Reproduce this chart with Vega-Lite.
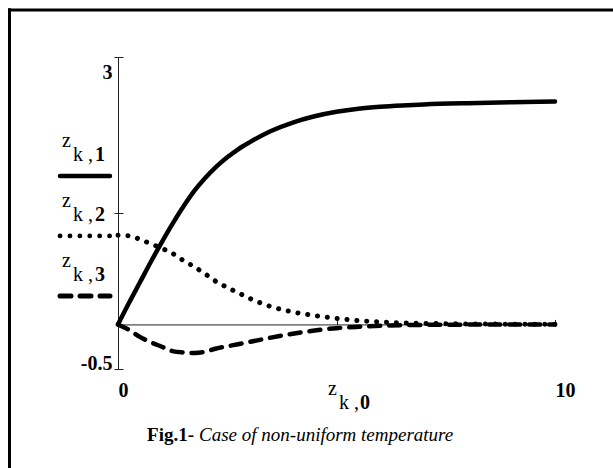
{
  "$schema": "https://vega.github.io/schema/vega-lite/v6.json",
  "width": 437,
  "height": 312,
  "autosize": {"type": "none"},
  "padding": {"left": 118, "top": 57, "right": 58, "bottom": 99},
  "background": "white",
  "config": {"view": {"stroke": null}, "axis": {"grid": false}},
  "datasets": {
    "curves": [
      {"s": "1", "x": 0, "y": 0}, {"s": "1", "x": 0.25, "y": 0.24}, {"s": "1", "x": 0.5, "y": 0.47}, {"s": "1", "x": 0.75, "y": 0.7},
      {"s": "1", "x": 1, "y": 0.92}, {"s": "1", "x": 1.25, "y": 1.13}, {"s": "1", "x": 1.5, "y": 1.325}, {"s": "1", "x": 1.75, "y": 1.5},
      {"s": "1", "x": 2, "y": 1.645}, {"s": "1", "x": 2.25, "y": 1.77}, {"s": "1", "x": 2.5, "y": 1.875}, {"s": "1", "x": 2.75, "y": 1.965},
      {"s": "1", "x": 3, "y": 2.04}, {"s": "1", "x": 3.5, "y": 2.17}, {"s": "1", "x": 4, "y": 2.265}, {"s": "1", "x": 4.5, "y": 2.335},
      {"s": "1", "x": 5, "y": 2.385}, {"s": "1", "x": 5.5, "y": 2.42}, {"s": "1", "x": 6, "y": 2.442}, {"s": "1", "x": 6.5, "y": 2.457},
      {"s": "1", "x": 7, "y": 2.468}, {"s": "1", "x": 8, "y": 2.482}, {"s": "1", "x": 9, "y": 2.492}, {"s": "1", "x": 10, "y": 2.5},
      {"s": "2", "x": 0, "y": 1.0}, {"s": "2", "x": 0.25, "y": 0.995}, {"s": "2", "x": 0.5, "y": 0.955}, {"s": "2", "x": 0.75, "y": 0.905},
      {"s": "2", "x": 1, "y": 0.855}, {"s": "2", "x": 1.25, "y": 0.795}, {"s": "2", "x": 1.5, "y": 0.715}, {"s": "2", "x": 1.75, "y": 0.645},
      {"s": "2", "x": 2, "y": 0.565}, {"s": "2", "x": 2.25, "y": 0.48}, {"s": "2", "x": 2.5, "y": 0.415}, {"s": "2", "x": 2.75, "y": 0.355},
      {"s": "2", "x": 3, "y": 0.295}, {"s": "2", "x": 3.5, "y": 0.2}, {"s": "2", "x": 4, "y": 0.14}, {"s": "2", "x": 4.5, "y": 0.1},
      {"s": "2", "x": 5, "y": 0.068}, {"s": "2", "x": 5.5, "y": 0.043}, {"s": "2", "x": 6, "y": 0.028}, {"s": "2", "x": 6.5, "y": 0.018},
      {"s": "2", "x": 7, "y": 0.012}, {"s": "2", "x": 8, "y": 0.006}, {"s": "2", "x": 9, "y": 0.003}, {"s": "2", "x": 10, "y": 0.001},
      {"s": "3", "x": 0, "y": 0}, {"s": "3", "x": 0.25, "y": -0.06}, {"s": "3", "x": 0.5, "y": -0.14}, {"s": "3", "x": 0.75, "y": -0.2},
      {"s": "3", "x": 1, "y": -0.25}, {"s": "3", "x": 1.25, "y": -0.3}, {"s": "3", "x": 1.5, "y": -0.315}, {"s": "3", "x": 1.75, "y": -0.32},
      {"s": "3", "x": 2, "y": -0.305}, {"s": "3", "x": 2.25, "y": -0.27}, {"s": "3", "x": 2.5, "y": -0.245}, {"s": "3", "x": 2.75, "y": -0.222},
      {"s": "3", "x": 3, "y": -0.198}, {"s": "3", "x": 3.5, "y": -0.148}, {"s": "3", "x": 4, "y": -0.104}, {"s": "3", "x": 4.5, "y": -0.068},
      {"s": "3", "x": 5, "y": -0.042}, {"s": "3", "x": 5.5, "y": -0.027}, {"s": "3", "x": 6, "y": -0.016}, {"s": "3", "x": 6.5, "y": -0.009},
      {"s": "3", "x": 7, "y": -0.005}, {"s": "3", "x": 8, "y": -0.002}, {"s": "3", "x": 9, "y": -0.001}, {"s": "3", "x": 10, "y": 0}
    ],
    "legend": [
      {"s": "1", "ly": 1.6655, "digit": "1"},
      {"s": "2", "ly": 0.9921, "digit": "2"},
      {"s": "3", "ly": 0.3187, "digit": "3"}
    ],
    "xtitle": [{"digit": "0"}],
    "caption": [{"bold": "Fig.1-", "italic": "Case of non-uniform temperature"}]
  },
  "layer": [
    {
      "data": {"name": "curves"},
      "transform": [{"filter": "datum.s === '1'"}],
      "mark": {"type": "line", "color": "black", "strokeWidth": 4.5, "strokeCap": "round", "strokeJoin": "round", "interpolate": "monotone"},
      "encoding": {
        "x": {"field": "x", "type": "quantitative", "scale": {"type": "linear", "domain": [0, 10], "nice": false, "zero": false},
          "axis": {"orient": "bottom", "values": [0, 10], "domain": false, "ticks": false, "grid": false, "title": null,
            "labelAlign": "left", "labelBaseline": "top", "labelPadding": 11, "labelFont": "Liberation Serif", "labelFontWeight": "bold",
            "labelFontSize": 20, "labelColor": "black", "labelFlush": false, "labelOverlap": false}},
        "y": {"field": "y", "type": "quantitative", "scale": {"type": "linear", "domain": [-0.5, 3], "nice": false, "zero": false},
          "axis": {"orient": "left", "values": [-0.5, 1.25, 3], "domain": true, "domainColor": "#222", "domainWidth": 1,
            "ticks": true, "tickColor": "#222", "tickSize": 4, "tickWidth": 1, "grid": false, "title": null,
            "labelExpr": "datum.value == 3 ? '3' : (datum.value == -0.5 ? '-0.5' : '')", "labelFont": "Liberation Serif", "labelFontWeight": "bold",
            "labelFontSize": 20, "labelColor": "black", "labelPadding": 2, "labelFlush": false, "labelOverlap": false,
            "labelBaseline": {"condition": {"test": "datum.value == 3", "value": "top"}, "value": "alphabetic"},
            "labelOffset": {"condition": {"test": "datum.value == 3", "value": 5}, "value": 0}}}
      }
    },
    {
      "data": {"name": "curves"},
      "transform": [{"filter": "datum.s === '3'"}],
      "mark": {"type": "line", "color": "black", "strokeWidth": 4.5, "strokeCap": "round", "strokeJoin": "round", "interpolate": "monotone", "strokeDash": [11, 9]},
      "encoding": {
        "x": {"field": "x", "type": "quantitative", "scale": {"type": "linear", "domain": [0, 10], "nice": false, "zero": false},
          "axis": {"orient": "top", "offset": -267.43, "values": [5, 10], "domain": true, "domainColor": "#222", "domainWidth": 1,
            "ticks": true, "tickColor": "#222", "tickSize": 5, "tickWidth": 1, "labels": false, "grid": false, "title": null}},
        "y": {"field": "y", "type": "quantitative", "scale": {"type": "linear", "domain": [-0.5, 3], "nice": false, "zero": false},
          "axis": {"orient": "right", "offset": -437, "values": [-0.5, 1.25, 3], "domain": false,
            "ticks": true, "tickColor": "#222", "tickSize": 5, "tickWidth": 1, "labels": false, "grid": false, "title": null}}
      }
    },
    {
      "data": {"name": "curves"},
      "transform": [{"filter": "datum.s === '2'"}],
      "mark": {"type": "line", "color": "black", "strokeWidth": 5, "strokeCap": "round", "strokeJoin": "round", "interpolate": "monotone", "strokeDash": [0.1, 9.8]},
      "encoding": {
        "x": {"field": "x", "type": "quantitative", "scale": {"type": "linear", "domain": [0, 10], "nice": false, "zero": false}, "axis": null},
        "y": {"field": "y", "type": "quantitative", "scale": {"type": "linear", "domain": [-0.5, 3], "nice": false, "zero": false}, "axis": null}
      }
    },
    {
      "data": {"name": "legend"},
      "mark": {"type": "rule", "color": "black", "strokeCap": "round"},
      "encoding": {
        "x": {"datum": -1.327, "type": "quantitative", "scale": {"type": "linear", "domain": [0, 10], "nice": false, "zero": false}, "axis": null},
        "x2": {"datum": -0.183},
        "y": {"field": "ly", "type": "quantitative", "scale": {"type": "linear", "domain": [-0.5, 3], "nice": false, "zero": false}, "axis": null},
        "strokeDash": {"field": "s", "type": "nominal", "scale": {"domain": ["1", "2", "3"], "range": [[1, 0], [0.1, 9.8], [11, 9]]}, "legend": null},
        "strokeWidth": {"field": "s", "type": "nominal", "scale": {"domain": ["1", "2", "3"], "range": [4.5, 5, 4.5]}, "legend": null}
      }
    },
    {
      "data": {"name": "legend"},
      "mark": {"type": "text", "text": "z", "font": "Liberation Serif", "fontSize": 20, "align": "left", "baseline": "alphabetic", "dy": -29, "color": "black"},
      "encoding": {
        "x": {"datum": -1.281, "type": "quantitative", "axis": null},
        "y": {"field": "ly", "type": "quantitative", "axis": null}
      }
    },
    {
      "data": {"name": "legend"},
      "mark": {"type": "text", "text": "k ,", "font": "Liberation Serif", "fontSize": 20, "align": "left", "baseline": "alphabetic", "dy": -15, "color": "black"},
      "encoding": {
        "x": {"datum": -1.03, "type": "quantitative", "axis": null},
        "y": {"field": "ly", "type": "quantitative", "axis": null}
      }
    },
    {
      "data": {"name": "legend"},
      "mark": {"type": "text", "font": "Liberation Serif", "fontSize": 20, "fontWeight": "bold", "align": "left", "baseline": "alphabetic", "dy": -15, "color": "black"},
      "encoding": {
        "x": {"datum": -0.526, "type": "quantitative", "axis": null},
        "y": {"field": "ly", "type": "quantitative", "axis": null},
        "text": {"field": "digit"}
      }
    },
    {
      "data": {"name": "xtitle"},
      "mark": {"type": "text", "text": "z", "font": "Liberation Serif", "fontSize": 20, "align": "left", "baseline": "alphabetic", "color": "black"},
      "encoding": {
        "x": {"datum": 4.805, "type": "quantitative", "axis": null},
        "y": {"datum": -0.792, "type": "quantitative", "axis": null}
      }
    },
    {
      "data": {"name": "xtitle"},
      "mark": {"type": "text", "text": "k ,", "font": "Liberation Serif", "fontSize": 20, "align": "left", "baseline": "alphabetic", "color": "black"},
      "encoding": {
        "x": {"datum": 5.057, "type": "quantitative", "axis": null},
        "y": {"datum": -0.949, "type": "quantitative", "axis": null}
      }
    },
    {
      "data": {"name": "xtitle"},
      "mark": {"type": "text", "font": "Liberation Serif", "fontSize": 20, "fontWeight": "bold", "align": "left", "baseline": "alphabetic", "color": "black"},
      "encoding": {
        "x": {"datum": 5.538, "type": "quantitative", "axis": null},
        "y": {"datum": -0.949, "type": "quantitative", "axis": null},
        "text": {"field": "digit"}
      }
    },
    {
      "data": {"name": "caption"},
      "mark": {"type": "text", "font": "Liberation Serif", "fontSize": 19, "fontWeight": "bold", "align": "right", "baseline": "alphabetic", "color": "black"},
      "encoding": {
        "x": {"datum": 1.74, "type": "quantitative", "axis": null},
        "y": {"datum": -1.309, "type": "quantitative", "axis": null},
        "text": {"field": "bold"}
      }
    },
    {
      "data": {"name": "caption"},
      "mark": {"type": "text", "font": "Liberation Serif", "fontSize": 19, "fontStyle": "italic", "align": "left", "baseline": "alphabetic", "color": "black"},
      "encoding": {
        "x": {"datum": 1.854, "type": "quantitative", "axis": null},
        "y": {"datum": -1.309, "type": "quantitative", "axis": null},
        "text": {"field": "italic"}
      }
    },
    {
      "data": {"values": [{}]},
      "mark": {"type": "rule", "color": "black", "strokeWidth": 3},
      "encoding": {
        "x": {"datum": -2.483, "type": "quantitative", "axis": null},
        "y": {"datum": 3.546, "type": "quantitative", "axis": null},
        "y2": {"datum": -1.66}
      }
    },
    {
      "data": {"values": [{}]},
      "mark": {"type": "rule", "color": "black", "strokeWidth": 3},
      "encoding": {
        "x": {"datum": -2.517, "type": "quantitative", "axis": null},
        "x2": {"datum": 11.5},
        "y": {"datum": 3.5286, "type": "quantitative", "axis": null}
      }
    }
  ],
  "resolve": {"axis": {"x": "independent", "y": "independent"}}
}
